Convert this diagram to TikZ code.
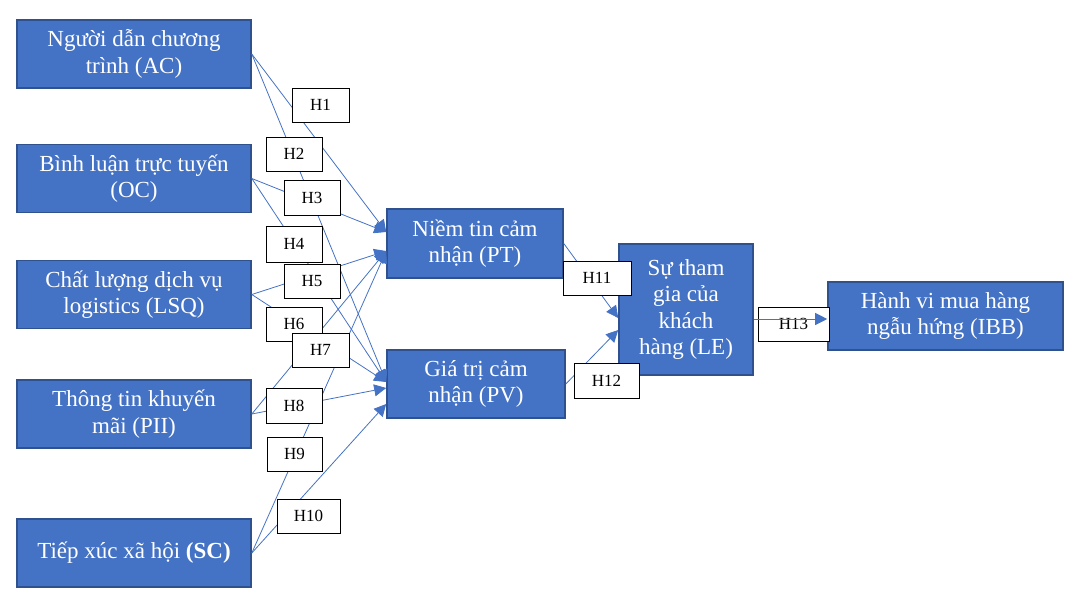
\documentclass[tikz,border=0pt]{standalone}
\usepackage{fontspec}
\setmainfont{Liberation Serif}
\usetikzlibrary{arrows.meta}
\definecolor{boxblue}{HTML}{4472C4}
\definecolor{boxedge}{HTML}{2F528F}
\begin{document}
\begin{tikzpicture}[x=1pt,y=-1pt,
  concept/.style={draw=boxedge, line width=1.6pt, fill=boxblue, text=white,
    font=\fontsize{23}{26.5}\selectfont, align=center, inner sep=0pt},
  hyp/.style={draw=black, line width=0.8pt, fill=white,
    font=\fontsize{17}{19}\selectfont, inner sep=0pt},
  link/.style={draw=boxblue, line width=0.8pt, -{Triangle[length=12pt,width=12pt]}}]
\useasboundingbox (0,0) rectangle (1085,611);

% concept boxes
\node[concept, minimum width=234, minimum height=68] (AC) at (134,54) {Người dẫn chương\\trình (AC)};
\node[concept, minimum width=234, minimum height=68] (OC) at (134,178.5) {Bình luận trực tuyến\\(OC)};
\node[concept, minimum width=234, minimum height=68] (LSQ) at (134,294.5) {Chất lượng dịch vụ\\logistics (LSQ)};
\node[concept, minimum width=234, minimum height=68] (PII) at (134,414) {Thông tin khuyến\\mãi (PII)};
\node[concept, minimum width=234, minimum height=68] (SC) at (134,553) {Tiếp xúc xã hội \textbf{(SC)}};
\node[concept, minimum width=176, minimum height=69] (PT) at (475,243.5) {Niềm tin cảm\\nhận (PT)};
\node[concept, minimum width=178, minimum height=68] (PV) at (476,384) {Giá trị cảm\\nhận (PV)};
\node[concept, minimum width=134, minimum height=131] (LE) at (686,309.5) {Sự tham\\gia của\\khách\\hàng (LE)};
\node[concept, minimum width=235, minimum height=68] (IBB) at (945.5,316) {Hành vi mua hàng\\ngẫu hứng (IBB)};

% arrow end points
\coordinate (pt1) at (PT.west |- 0,232);
\coordinate (pt2) at (PT.west |- 0,251);
\coordinate (pv1) at (PV.west |- 0,382);
\coordinate (pv2) at (PV.west |- 0,388);
\coordinate (pv3) at (PV.west |- 0,404);
\coordinate (le1) at (LE.west |- 0,318);
\coordinate (le2) at (LE.west |- 0,330);
\coordinate (ibb1) at (IBB.west |- 0,319);
\coordinate (le3) at (LE.east |- 0,319);

% connectors
\draw[link] (AC.east) -- (pt1);
\draw[link] (AC.east) -- (pv1);
\draw[link] (OC.east) -- (pt1);
\draw[link] (OC.east) -- (pv1);
\draw[link] (LSQ.east) -- (pt2);
\draw[link] (LSQ.east) -- (pv1);
\draw[link] (PII.east) -- (pt2);
\draw[link] (PII.east) -- (pv2);
\draw[link] (SC.east) -- (pt2);
\draw[link] (SC.east) -- (pv3);
\draw[link] (PT.east) -- (le1);
\draw[link] (PV.east) -- (le2);

% hypothesis labels
\node[hyp, minimum width=57, minimum height=34] (H1) at (320.5,105) {H1};
\node[hyp, minimum width=56, minimum height=34] (H2) at (294,154) {H2};
\node[hyp, minimum width=56, minimum height=35] (H3) at (312,197.5) {H3};
\node[hyp, minimum width=56, minimum height=36] (H4) at (294,244) {H4};
\node[hyp, minimum width=56, minimum height=34] (H5) at (312,281) {H5};
\node[hyp, minimum width=56, minimum height=34] (H6) at (294,324) {H6};
\node[hyp, minimum width=57, minimum height=34] (H7) at (320.5,350) {H7};
\node[hyp, minimum width=56, minimum height=35] (H8) at (294,405.5) {H8};
\node[hyp, minimum width=55, minimum height=34] (H9) at (294.5,454) {H9};
\node[hyp, minimum width=63, minimum height=34] (H10) at (308.5,516) {H10};
\node[hyp, minimum width=68, minimum height=34] (H11) at (597,278) {H11};
\node[hyp, minimum width=65, minimum height=35] (H12) at (606.5,380.5) {H12};
\node[hyp, minimum width=71, minimum height=34] (H13) at (793.5,324) {H13};

\draw[link] (le3) -- (ibb1);
\end{tikzpicture}
\end{document}
